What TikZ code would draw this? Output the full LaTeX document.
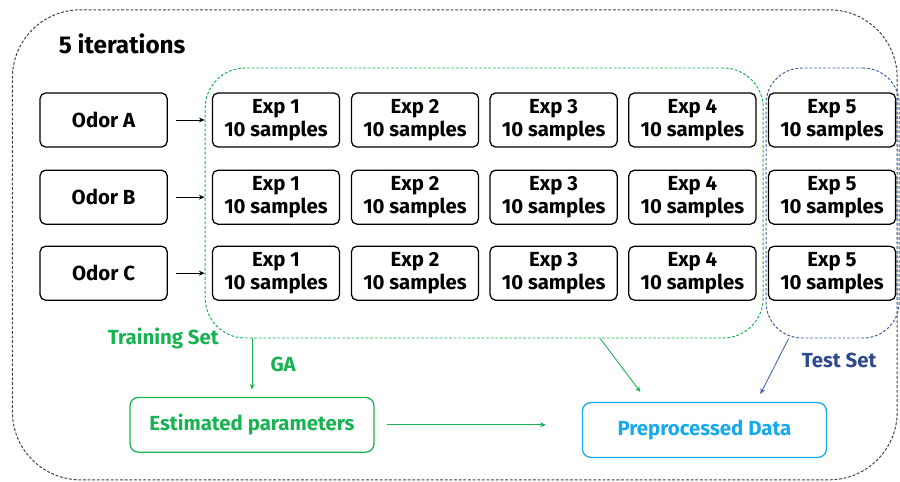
\documentclass[tikz,border=0pt]{standalone}
\usepackage{fontspec}
\setmainfont{Fira Sans}
\usepackage{tikz}
\usetikzlibrary{positioning,calc,arrows.meta}
\definecolor{trgreen}{RGB}{24,178,82}
\definecolor{tsblue}{RGB}{62,96,160}
\definecolor{tstext}{RGB}{46,74,140}
\definecolor{ppblue}{RGB}{22,170,236}
\tikzset{
  lbl/.style     = {font=\bfseries\fontsize{14.5}{17}\selectfont, inner sep=1.5pt},
  odorbox/.style = {draw, line width=0.9pt, rounded corners=4pt, minimum width=3.18cm,
                    minimum height=1.35cm, align=center, inner sep=1pt,
                    font=\bfseries\fontsize{14.5}{16.3}\selectfont},
  setbox/.style  = {dash pattern=on 2pt off 1.3pt, line width=0.7pt, inner sep=0pt},
  resbox/.style  = {draw, line width=0.9pt, rounded corners=6pt, minimum width=6.1cm,
                    minimum height=1.37cm, font=\bfseries\fontsize{14.5}{17}\selectfont},
  arr/.style     = {-{Stealth[length=4pt,width=3.5pt]}, line width=0.6pt},
}

\begin{document}
\begin{tikzpicture}
  \useasboundingbox (0,0) rectangle (22.5,-12.05);
  % outer loop
  \node[setbox, draw=black!75, rounded corners=1.7cm, minimum width=22.12cm,
        minimum height=11.75cm] (iter) at (11.37,-6.12) {};
  \node[font=\bfseries\fontsize{17.3}{20}\selectfont, anchor=west] (title) at (1.35,-1.1) {5 iterations};
  % training / test sets
  \node[setbox, draw=trgreen, rounded corners=1cm, minimum width=13.95cm,
        minimum height=6.75cm] (train) at (12.105,-5.075) {};
  \node[setbox, draw=tsblue, rounded corners=0.9cm, minimum width=3.33cm,
        minimum height=6.75cm] (test) at (20.815,-5.075) {};
  % odors and experiments
  \foreach \o/\y in {A/-3.0,B/-4.93,C/-6.83}{
    \node[odorbox] (o\o) at (2.59,\y) {Odor \o};
    \foreach \c/\x in {1/6.9,2/10.375,3/13.84,4/17.31,5/20.8}
      \node[odorbox] (e\o\c) at (\x,\y) {Exp \c\\10 samples};
    \draw[arr] ([xshift=2mm]o\o.east) -- ([xshift=-1.8mm]e\o1.west);
  }
  \node[lbl, text=trgreen] (trlbl) at (4.08,-8.45) {Training Set};
  \node[lbl, text=tstext] (tslbl) at (20.98,-9.0) {Test Set};
  % results
  \node[resbox, draw=trgreen, text=trgreen] (est) at (6.3,-10.62) {Estimated parameters};
  \node[resbox, draw=ppblue, text=ppblue] (prep) at (17.61,-10.75) {Preprocessed Data};
  \draw[arr, trgreen] (est.north |- train.south) -- node[lbl, right=4mm]{GA} ([yshift=1.8mm]est.north);
  \draw[arr, trgreen] ([xshift=3mm]est.east) -- ([xshift=-9mm]est.east -| prep.west);
  \draw[arr, trgreen] ([xshift=2.9cm]train.south) -- ([xshift=-1.6cm,yshift=2.5mm]prep.north);
  \draw[arr, tsblue] ([xshift=-1.1cm]test.south) -- ([xshift=1.4cm,yshift=2mm]prep.north);
\end{tikzpicture}
\end{document}
